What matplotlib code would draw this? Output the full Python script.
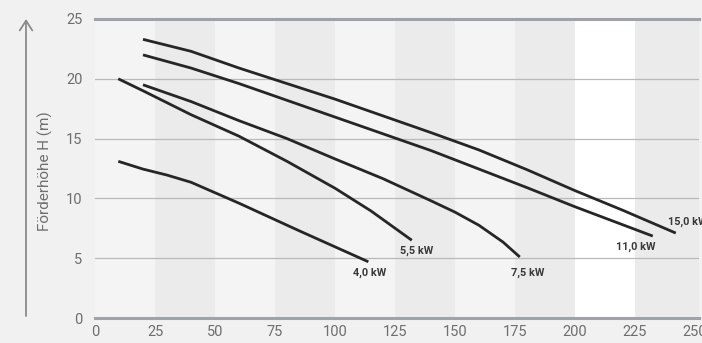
import matplotlib
matplotlib.use("Agg")
import matplotlib.pyplot as plt

# pump curves: flow rate Q vs. delivery head H
q_40 = [9.7, 20, 30, 40, 60, 85, 113.9]
h_40 = [13.1, 12.45, 11.95, 11.35, 9.6, 7.3, 4.7]

q_55 = [9.7, 20, 40, 60, 80, 100, 115, 132]
h_55 = [20.0, 19.0, 17.0, 15.2, 13.1, 10.85, 8.95, 6.5]

q_75 = [20, 40, 60, 80, 100, 120, 140, 150, 160, 170, 177]
h_75 = [19.5, 18.1, 16.5, 15.0, 13.3, 11.65, 9.8, 8.85, 7.75, 6.35, 5.1]

q_110 = [20, 40, 60, 80, 100, 120, 140, 160, 180, 200, 232.4]
h_110 = [22.0, 20.9, 19.6, 18.2, 16.8, 15.4, 14.0, 12.45, 10.9, 9.3, 6.85]

q_150 = [20, 40, 60, 80, 100, 120, 140, 160, 180, 200, 220, 242]
h_150 = [23.3, 22.3, 20.9, 19.6, 18.3, 16.9, 15.5, 14.05, 12.4, 10.65, 9.0, 7.1]

curve_names = ["4,0 kW", "5,5 kW", "7,5 kW", "11,0 kW", "15,0 kW"]
# label anchor points (Q, H)
label_q = [114.6, 134.2, 180.4, 225.4, 238.8]
label_h = [3.76, 5.65, 3.78, 5.96, 8.05]
label_ha = ["center", "center", "center", "center", "left"]

x_ticks = [0, 25, 50, 75, 100, 125, 150, 175, 200, 225, 250]
y_ticks = [0, 5, 10, 15, 20, 25]

font = ["Roboto", "DejaVu Sans"]
bg = "#f1f1f1"

fig = plt.figure(figsize=(7.02, 3.43), dpi=100, facecolor=bg)
ax = fig.add_axes([95 / 702, 25 / 343, 604 / 702, 299 / 343])
ax.set_facecolor(bg)
x_max = 604 / 2.4
ax.set_xlim(0, x_max)
ax.set_ylim(0, 25)

# vertical bands every 25 units
band_colors = ["#f4f4f4", "#ebebeb", "#f4f4f4", "#ebebeb", "#f4f4f4",
               "#ebebeb", "#f4f4f4", "#ebebeb", "#ffffff", "#ebebeb"]
for i, c in enumerate(band_colors):
    right = x_ticks[i + 1] if i < len(band_colors) - 1 else x_max
    ax.axvspan(x_ticks[i], right, color=c, lw=0, zorder=0)

# grid lines
for y in [5, 10, 15, 20]:
    ax.axhline(y, color="#b9b9b9", lw=0.9, zorder=1)
for y in [0, 25]:
    ax.axhline(y, color="#9da3a9", lw=2.2, zorder=1, clip_on=False)

for s in ax.spines.values():
    s.set_visible(False)

curves = [(q_40, h_40), (q_55, h_55), (q_75, h_75), (q_110, h_110), (q_150, h_150)]
for q, h in curves:
    ax.plot(q, h, color="#262626", lw=2.0, solid_capstyle="butt",
            solid_joinstyle="round", zorder=3)

for name, lq, lh, ha in zip(curve_names, label_q, label_h, label_ha):
    ax.text(lq, lh, name, ha=ha, va="center", fontsize=7.8, fontweight="bold",
            color="#3a3a3a", family=font, zorder=4, clip_on=False)

ax.set_xticks(x_ticks)
ax.set_yticks(y_ticks)
ax.tick_params(length=0, colors="#6e6e6e", labelsize=10.5)
ax.tick_params(axis="x", pad=5)
ax.tick_params(axis="y", pad=9)
for lbl in ax.get_xticklabels() + ax.get_yticklabels():
    lbl.set_family(font)

# axis title with upward arrow
fig.text(45 / 702, 1 - 171 / 343, "Förderhöhe H (m)", rotation=90, ha="center",
         va="center", fontsize=11, color="#6e6e6e", family=font)
ax.annotate("", xy=(26, 343 - 19), xytext=(26, 343 - 316),
            xycoords="figure pixels", textcoords="figure pixels",
            arrowprops=dict(arrowstyle="->,head_length=0.7,head_width=0.45",
                            color="#8a8a8a", lw=1.3, shrinkA=0, shrinkB=0))

fig.savefig("out.png", dpi=100, facecolor=bg)
